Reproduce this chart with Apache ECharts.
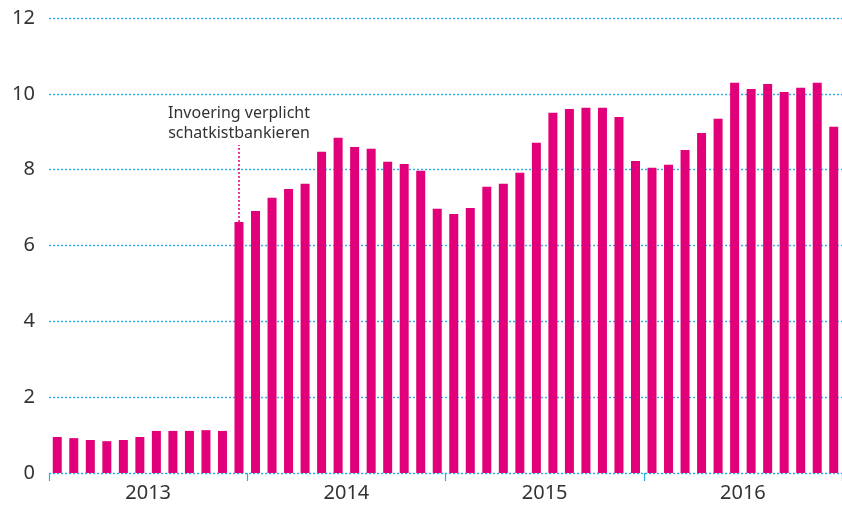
<!DOCTYPE html>
<html>
<head>
<meta charset="utf-8">
<script src="https://cdn.jsdelivr.net/npm/echarts@6/dist/echarts.min.js"></script>
<style>
  html, body { margin: 0; padding: 0; background: #fff; }
  #chart { width: 842px; height: 507px; }
</style>
</head>
<body>
<div id="chart"></div>
<script>
const years = ['2013', '2014', '2015', '2016']
const months = ['01', '02', '03', '04', '05', '06', '07', '08', '09', '10', '11', '12']
const categories = []
years.forEach(y => months.forEach(m => categories.push(y + '-' + m)))

const values2013 = [0.95, 0.92, 0.87, 0.84, 0.87, 0.95, 1.11, 1.11, 1.11, 1.13, 1.11, 6.62]
const values2014 = [6.91, 7.26, 7.49, 7.63, 8.47, 8.84, 8.60, 8.55, 8.21, 8.15, 7.97, 6.97]
const values2015 = [6.83, 6.99, 7.55, 7.63, 7.92, 8.71, 9.50, 9.60, 9.63, 9.63, 9.39, 8.23]
const values2016 = [8.05, 8.13, 8.52, 8.97, 9.34, 10.29, 10.13, 10.26, 10.05, 10.16, 10.29, 9.13]
const values = [].concat(values2013, values2014, values2015, values2016)

const yTicks = [0, 2, 4, 6, 8, 10, 12]
const annotationText = 'Invoering verplicht\nschatkistbankieren'
const annotationIndex = 11
const annotationTop = 8.65

const pink = '#e2007a'
const blue = '#22b0ea'
const font = '"Noto Sans", Lato, sans-serif'

const myChart = echarts.init(document.getElementById('chart'))
myChart.setOption({
  animation: false,
  grid: { left: 49, right: 0, top: 18, bottom: 34 },
  xAxis: [
    {
      type: 'category',
      data: categories,
      axisLine: { show: false },
      axisTick: { show: false },
      axisLabel: { show: false },
    },
    {
      type: 'category',
      data: years,
      position: 'bottom',
      axisLine: { show: false },
      axisTick: { show: true, length: 8, lineStyle: { color: blue, width: 1.2 } },
      axisLabel: { fontSize: 20, color: '#333', fontFamily: font, margin: 10 },
    },
  ],
  yAxis: {
    type: 'value',
    min: yTicks[0],
    max: yTicks[yTicks.length - 1],
    interval: 2,
    axisLine: { show: false },
    axisTick: { show: false },
    axisLabel: { fontSize: 20, color: '#333', fontFamily: font, margin: 14 },
    splitLine: { lineStyle: { color: blue, type: [2, 2], width: 1.4 } },
  },
  series: [
    {
      type: 'bar',
      xAxisIndex: 0,
      data: values,
      barWidth: 9,
      itemStyle: { color: pink },
      markLine: {
        silent: true,
        symbol: ['none', 'none'],
        lineStyle: { color: pink, type: [2, 2], width: 1.5 },
        label: {
          show: true,
          position: 'end',
          distance: 2,
          formatter: annotationText,
          fontSize: 16,
          lineHeight: 20,
          color: '#333',
          fontFamily: font,
          align: 'center',
        },
        data: [[
          { coord: [annotationIndex, values[annotationIndex]] },
          { coord: [annotationIndex, annotationTop] },
        ]],
      },
    },
  ],
})
</script>
</body>
</html>
